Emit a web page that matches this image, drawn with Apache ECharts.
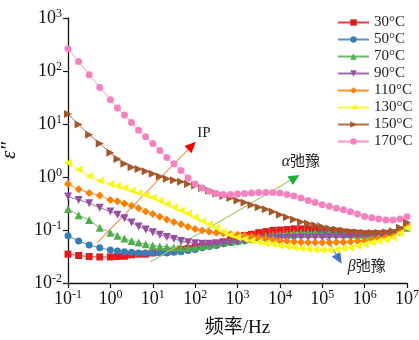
<!DOCTYPE html>
<html><head><meta charset="utf-8">
<script src="https://cdn.jsdelivr.net/npm/echarts@6/dist/echarts.min.js"></script>
<style>html,body{margin:0;padding:0;background:#fff}#c{width:419px;height:340px}</style>
</head><body><div id="c"></div>
<script>
const freq = [0.1,0.178,0.316,0.562,1,
  1.47,2.15,3.16,4.64,6.81,10,
  14.7,21.5,31.6,46.4,68.1,100,
  147,215,316,464,681,1000,
  1470,2150,3160,4640,6810,1e4,
  1.47e4,2.15e4,3.16e4,4.64e4,6.81e4,1e5,
  1.47e5,2.15e5,3.16e5,4.64e5,6.81e5,1e6,
  1.47e6,2.15e6,3.16e6,4.64e6,6.81e6,1e7];
const seriesNames = ['30°C','50°C','70°C','90°C','110°C','130°C','150°C','170°C'];
const t30 = [0.035,0.033,0.0316,0.031,0.031, 0.0316,0.032,0.034,0.035,0.035,0.037, 0.038,0.039,0.040,0.043,0.045,0.048, 0.050,0.052,0.055,0.060,0.065,0.074, 0.079,0.083,0.089,0.093,0.098,0.100, 0.102,0.105,0.105,0.105,0.102,0.100, 0.098,0.095,0.091,0.089,0.087,0.085, 0.085,0.085,0.087,0.089,0.098,0.112];
const t50 = [0.078,0.062,0.052,0.046,0.042, 0.040,0.039,0.038,0.037,0.037,0.037, 0.037,0.037,0.038,0.039,0.041,0.043, 0.046,0.049,0.051,0.055,0.058,0.060, 0.063,0.066,0.069,0.071,0.074,0.076, 0.078,0.079,0.081,0.081,0.083,0.083, 0.083,0.081,0.081,0.081,0.081,0.081, 0.081,0.083,0.085,0.089,0.098,0.112];
const t70 = [0.25,0.19,0.155,0.11,0.089, 0.078,0.069,0.062,0.058,0.054,0.051, 0.049,0.048,0.047,0.046,0.047,0.048, 0.050,0.052,0.055,0.058,0.060,0.063, 0.066,0.069,0.074,0.078,0.081,0.083, 0.085,0.087,0.089,0.089,0.089,0.087, 0.087,0.085,0.083,0.083,0.081,0.081, 0.081,0.083,0.085,0.087,0.095,0.11];
const t90 = [0.427,0.37,0.32,0.263,0.224, 0.195,0.166,0.138,0.117,0.102,0.091, 0.081,0.074,0.068,0.062,0.059,0.056, 0.055,0.055,0.056,0.056,0.058,0.060, 0.062,0.065,0.066,0.068,0.069,0.071, 0.071,0.071,0.072,0.072,0.072,0.072, 0.074,0.074,0.074,0.074,0.076,0.076, 0.078,0.078,0.079,0.081,0.091,0.11];
const t110 = [0.74,0.59,0.50,0.447,0.37, 0.347,0.316,0.288,0.257,0.224,0.20, 0.178,0.158,0.141,0.129,0.115,0.105, 0.098,0.093,0.089,0.087,0.083,0.081, 0.079,0.076,0.072,0.069,0.066,0.063, 0.062,0.060,0.059,0.058,0.058,0.058, 0.058,0.059,0.059,0.060,0.062,0.063, 0.066,0.069,0.074,0.079,0.093,0.115];
const t130 = [1.86,1.38,1.05,0.85,0.74, 0.68,0.63,0.55,0.50,0.457,0.41, 0.355,0.31,0.27,0.234,0.204,0.174, 0.148,0.129,0.11,0.093,0.081,0.072, 0.068,0.063,0.059,0.056,0.054,0.051, 0.049,0.047,0.045,0.044,0.043,0.042, 0.042,0.043,0.045,0.047,0.050,0.054, 0.058,0.062,0.066,0.072,0.087,0.11];
const t150 = [15.5,9.8,6.3,4.27,2.88, 2.19,1.78,1.53,1.41,1.29,1.15, 1.02,0.93,0.87,0.81,0.74,0.69, 0.62,0.55,0.49,0.44,0.40,0.36, 0.33,0.295,0.27,0.245,0.22,0.195, 0.174,0.158,0.141,0.132,0.123,0.115, 0.107,0.102,0.098,0.093,0.091,0.089, 0.089,0.089,0.091,0.095,0.11,0.138];
const t170 = [263,151,85,49,28.8, 20,14.8,10.7,7.6,5.75,4.27, 3.16,2.34,1.78,1.32,0.955,0.74, 0.62,0.54,0.49,0.47,0.47,0.48, 0.49,0.50,0.51,0.51,0.51,0.50, 0.47,0.44,0.40,0.36,0.33,0.30, 0.28,0.257,0.24,0.22,0.20,0.18, 0.17,0.162,0.155,0.155,0.162,0.178];
const seriesValues = [t30,t50,t70,t90,t110,t130,t150,t170];
const colors = ['#e41a1c','#377eb8','#4daf4a','#984ea3','#ff7f00','#f9f71a','#a65628','#f781bf'];
const symbols = ['rect','circle','triangle','path://M0,0L10,0L5,9Z','diamond','path://M0,5L9,0L9,10Z','path://M0,0L9,5L0,10Z','circle'];
const symSizes = [7,7,8,8,8,8,8,7];
// annotations (data coordinates)
const arrowLines = [
  {from:[0.483,0.057], to:[84,3.89], line:'#f0904a', head:'#ff0000', rot:-45},
  {from:[8.6,0.0249], to:[2.26e4,0.966], line:'#9ccc6c', head:'#1fae3c', rot:-59},
  {from:[7.47e4,0.142], to:[2.47e5,0.0284], line:'#4d7cc8', head:'#4472c4', rot:-149}
];
const annoText = [
  {at:[161,6.86], text:'IP'},
  {at:[3.13e4,1.94], text:'{i|α}弛豫'},
  {at:[1.12e6,0.020], text:'{i|β}弛豫'}
];
const serif = 'Liberation Serif, Times New Roman, serif';
const cjk = 'Liberation Serif, Noto Sans CJK SC, serif';

function expLabel(v){
  const e = Math.round(Math.log10(v));
  return '{b|10}{s|' + e + '}';
}
const labelRich = {
  b:{fontFamily:serif,fontSize:18,color:'#111',lineHeight:21},
  s:{fontFamily:serif,fontSize:12,color:'#111',verticalAlign:'top',lineHeight:12}
};

const series = seriesNames.map((n,k)=>({
  name:n, type:'line',
  data: freq.map((f,i)=>[f, seriesValues[k][i]]),
  symbol: symbols[k], symbolSize: symSizes[k],
  showSymbol:true,
  itemStyle:{color:colors[k]},
  lineStyle:{color:colors[k],width:1,opacity:0.85},
  emphasis:{disabled:true},
  animation:false,
  z: 2+k
}));

series.push({
  name:'annot', type:'line', data:[], animation:false, z:20,
  markLine:{
    silent:true, symbol:['none','none'], animation:false,
    label:{show:false},
    data: arrowLines.map(a=>[
      {coord:a.from, lineStyle:{color:a.line,width:1.1,type:'solid'}},
      {coord:a.to}
    ])
  },
  markPoint:{
    silent:true, animation:false,
    data: arrowLines.map(a=>({
      coord:a.to, symbol:'triangle', symbolSize:[10,11], symbolRotate:a.rot,
      itemStyle:{color:a.head}, label:{show:false}
    })).concat(annoText.map(t=>({
      coord:t.at, symbol:'circle', symbolSize:0,
      itemStyle:{color:'transparent'},
      label:{show:true, position:'inside', formatter:t.text, color:'#222',
        fontFamily:cjk, fontSize:15,
        rich:{i:{fontFamily:serif,fontStyle:'italic',fontSize:16,color:'#222'}}}
    })))
  }
});

const chart = echarts.init(document.getElementById('c'), null, {renderer:'canvas'});
chart.setOption({
  animation:false,
  backgroundColor:'#fff',
  grid:{left:68,right:12,top:18,bottom:57,containLabel:false,outerBoundsMode:'none'},
  legend:{
    data:seriesNames, orient:'vertical', left:332, top:10,
    itemWidth:31, itemHeight:8, itemGap:2, itemStyle:{},
    textStyle:{fontFamily:serif,fontSize:15,color:'#222',lineHeight:15},
    selectedMode:false
  },
  xAxis:{
    type:'log', logBase:10, min:0.1, max:1e7,
    name:'频率/Hz', nameLocation:'middle', nameGap:36,
    nameTextStyle:{fontFamily:cjk,fontSize:19,color:'#111'},
    axisLine:{show:true,lineStyle:{color:'#111',width:1.3}},
    axisTick:{show:true,length:5,inside:false,lineStyle:{color:'#111',width:1.2}},
    minorTick:{show:false}, splitLine:{show:false}, minorSplitLine:{show:false},
    axisLabel:{formatter:expLabel,rich:labelRich,margin:6}
  },
  yAxis:{
    type:'log', logBase:10, min:0.01, max:1000,
    name:'ε\u2033', nameLocation:'middle', nameGap:48, nameRotate:90,
    nameTextStyle:{fontFamily:serif,fontStyle:'italic',fontSize:21,color:'#111'},
    axisLine:{show:true,lineStyle:{color:'#111',width:1.3}},
    axisTick:{show:true,length:5,inside:false,lineStyle:{color:'#111',width:1.2}},
    minorTick:{show:false}, splitLine:{show:false}, minorSplitLine:{show:false},
    axisLabel:{formatter:expLabel,rich:labelRich,margin:6}
  },
  series:series
});
</script></body></html>
